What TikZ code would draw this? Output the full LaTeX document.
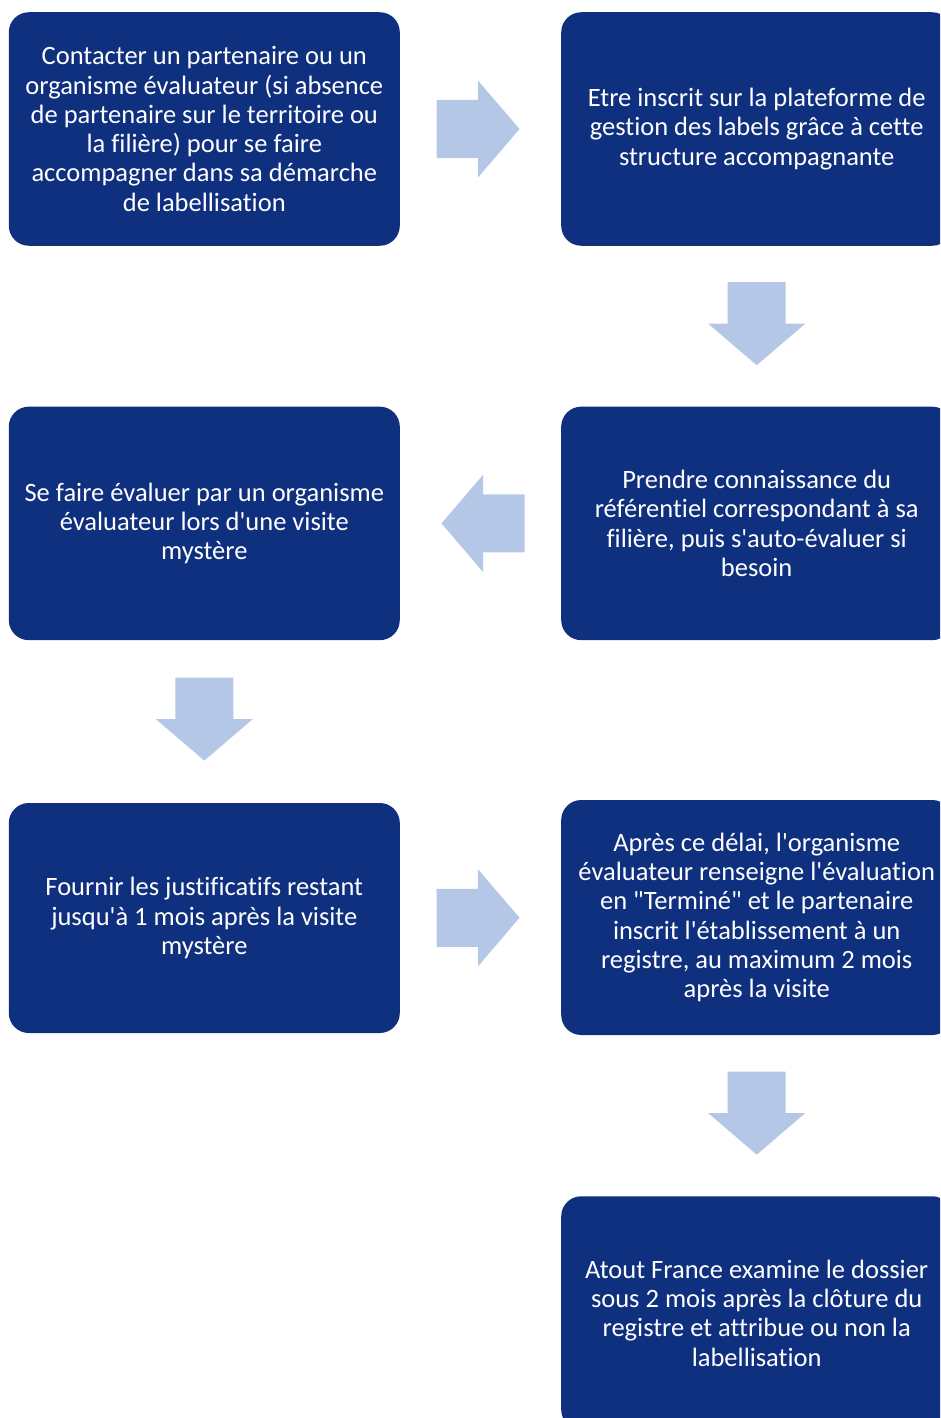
\documentclass[tikz,border=0pt]{standalone}
\usepackage{fontspec}
\setmainfont{Carlito}[Ligatures={TeXOff,NoCommon}]
\usetikzlibrary{positioning, calc}
\definecolor{stepblue}{HTML}{0F2F7F}
\definecolor{flowblue}{HTML}{B4C7E7}

\begin{document}
\begin{tikzpicture}[
  x=1pt, y=-1pt,
  stage/.style={fill=stepblue, rounded corners=20pt, minimum width=391pt, minimum height=233.5pt, inner sep=0pt, align=center, text=white, font=\fontsize{26.5}{29.3}\selectfont},
  flow/.pic={\fill[flowblue] (-44,-29) -- (-2.5,-29) -- (-2.5,-48.5) -- (39,0) -- (-2.5,48.5) -- (-2.5,29) -- (-44,29) -- cycle;},
]
\useasboundingbox (0,0) rectangle (940,1418);
\clip (0,0) rectangle (940,1418);
\node[stage] (contact) at (204.3,129) {Contacter un partenaire ou un\\organisme évaluateur (si absence\\de partenaire sur le territoire ou\\la filière) pour se faire\\accompagner dans sa démarche\\de labellisation};
\node[stage] (inscrit) at (756.7,129) {Etre inscrit sur la plateforme de\\gestion des labels grâce à cette\\structure accompagnante};
\node[stage] (referentiel) at (756.7,523.4) {Prendre connaissance du\\référentiel correspondant à sa\\filière, puis s'auto-évaluer si\\besoin};
\node[stage] (visite) at (204.3,523.4) {Se faire évaluer par un organisme\\évaluateur lors d'une visite\\mystère};
\node[stage, minimum height=230pt] (justif) at (204.3,918) {Fournir les justificatifs restant\\jusqu'à 1 mois après la visite\\mystère};
\node[stage, minimum height=235pt] (registre) at (756.7,917.5) {Après ce délai, l'organisme\\évaluateur renseigne l'évaluation\\en "Terminé" et le partenaire\\inscrit l'établissement à un\\registre, au maximum 2 mois\\après la visite};
\node[stage] (atout) at (756.7,1313) {Atout France examine le dossier\\sous 2 mois après la clôture du\\registre et attribue ou non la\\labellisation};
\pic (f1) at ($(contact.east)!0.5!(inscrit.west)$) {flow};
\pic[rotate=-90] (f2) at ($(inscrit.south)!0.5!(referentiel.north)$) {flow};
\pic[rotate=180] (f3) at ($(referentiel.west)!0.5!(visite.east)$) {flow};
\pic[rotate=-90] (f4) at ($(visite.south)!0.5!(justif.north)$) {flow};
\pic (f5) at ($(justif.east)!0.5!(registre.west)$) {flow};
\pic[rotate=-90] (f6) at ($(registre.south)!0.5!(atout.north)$) {flow};
\end{tikzpicture}
\end{document}
